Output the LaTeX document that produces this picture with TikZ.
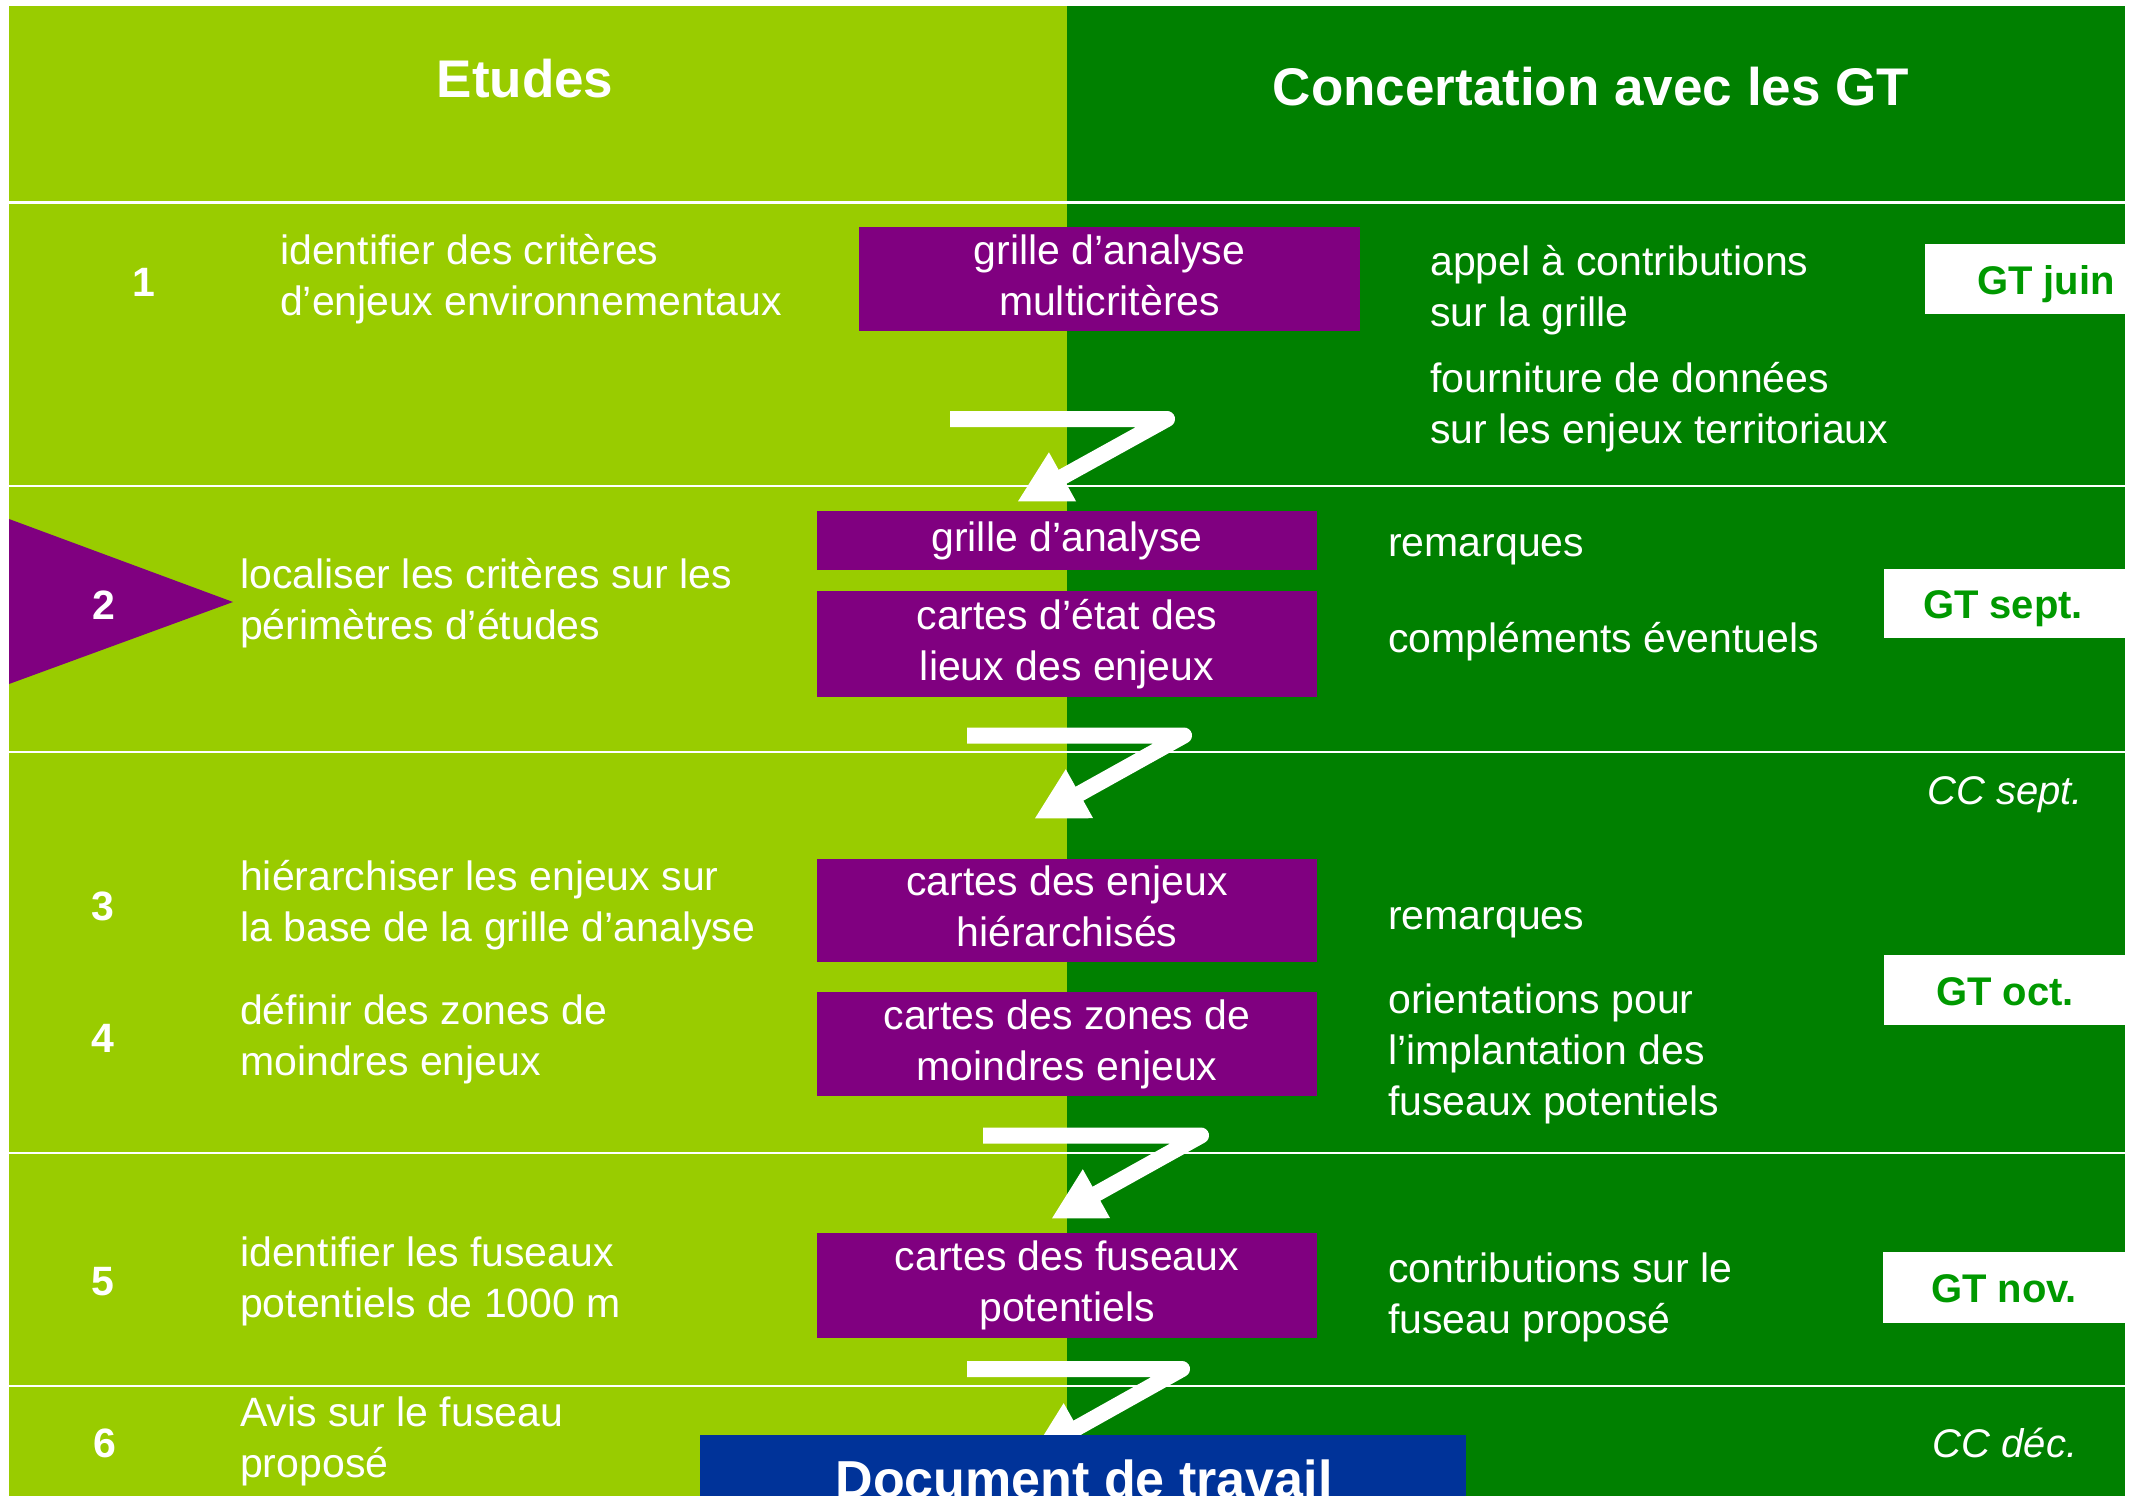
\documentclass[tikz,border=0pt]{standalone}
\usepackage{fontspec}
\setmainfont{Liberation Sans}
\usetikzlibrary{arrows.meta}
\definecolor{lightg}{HTML}{99CC00}
\definecolor{darkg}{HTML}{008000}
\definecolor{purp}{HTML}{800080}
\definecolor{docblue}{HTML}{003399}
\definecolor{gtg}{HTML}{009900}
\newcommand\sL{\rule[-0.25em]{0pt}{1.2em}}
\newcommand\bL{\rule[-0.34em]{0pt}{1.2em}}
\begin{document}
\begin{tikzpicture}[x=1pt,y=-1pt,
  body/.style={text=white,font=\fontsize{41}{51}\selectfont,inner sep=0pt,align=left,anchor=west,yshift=-4pt},
  num/.style={text=white,font=\bfseries\fontsize{41}{49}\selectfont,inner sep=0pt,text height=29pt,text depth=0pt},
  head/.style={text=white,font=\bfseries\fontsize{53}{60}\selectfont,inner sep=0pt,text height=38pt,text depth=0pt},
  pbox/.style={fill=purp,draw=none,inner sep=0pt,text=white,font=\fontsize{41}{51}\selectfont,align=center},
  gtbox/.style={fill=white,draw=none,inner sep=0pt},
  gttext/.style={text=gtg,font=\bfseries\fontsize{40}{48}\selectfont,inner sep=0pt,text height=29pt,text depth=0pt},
  cc/.style={text=white,font=\itshape\fontsize{40}{48}\selectfont,inner sep=0pt,text height=29pt,text depth=0pt},
  sepline/.style={draw=white,line width=2pt},
  flow/.style={draw=white,line width=16pt,line join=round,-{Triangle[length=52pt,width=52pt]}}
]
\useasboundingbox (0,0) rectangle (2134,1496);
\clip (0,0) rectangle (2134,1496);
\fill[white] (0,0) rectangle (2134,1496);
% backgrounds
\fill[lightg] (9,6) rectangle (1067,1500);
\fill[darkg] (1067,6) rectangle (2125,1500);
% separators
\draw[draw=white,line width=3pt] (9,202) -- (2125,202);
\draw[sepline] (9,486) -- (2125,486);
\draw[sepline] (9,752) -- (2125,752);
\draw[sepline] (9,1153) -- (2125,1153);
\draw[sepline] (9,1386) -- (2125,1386);
% header
\node[head] (hEt) at (525,78) {Etudes};
\node[head] (hCo) at (1591,87) {Concertation avec les GT};
% row 1
\node[num] (n1) at (144,282) {1};
\node[body] (l1) at (280,272) {\sL identifier des critères\\\sL d’enjeux environnementaux};
\node[pbox,minimum width=501pt,minimum height=104pt] (pb1) at (1109.5,279) {\bL grille d’analyse\\\bL multicritères};
\node[body] (r1a) at (1430,283) {\sL appel à contributions\\\sL sur la grille};
\node[body] (r1b) at (1430,400) {\sL fourniture de données\\\sL sur les enjeux territoriaux};
\node[gtbox,minimum width=200pt,minimum height=70pt] (gt1) at (2025,279) {};
\node[gttext] (gt1t) at (2046,280) {GT juin};
% row 2
\fill[purp] (9,519) -- (233,602) -- (9,684) -- cycle;
\node[num] (n2) at (104,605) {2};
\node[body] (l2) at (240,596) {\sL localiser les critères sur les\\\sL périmètres d’études};
\node[pbox,minimum width=500pt,minimum height=59pt] (pb2) at (1067,540.5) {\bL grille d’analyse};
\node[pbox,minimum width=500pt,minimum height=106pt] (pb3) at (1067,644) {\bL cartes d’état des\\\bL lieux des enjeux};
\node[body] (r2a) at (1388,538) {\sL remarques};
\node[body] (r2b) at (1388,634) {\sL compléments éventuels};
\node[gtbox,minimum width=241pt,minimum height=69pt] (gt2) at (2004.5,603.5) {};
\node[gttext] (gt2t) at (2003,604) {GT sept.};
% row 3
\node[cc] (cc1) at (2005,790) {CC sept.};
\node[num] (n3) at (103,906) {3};
\node[body] (l3) at (240,898) {\sL hiérarchiser les enjeux sur\\\sL la base de la grille d’analyse};
\node[num] (n4) at (103,1038) {4};
\node[body] (l4) at (240,1032) {\sL définir des zones de\\\sL moindres enjeux};
\node[pbox,minimum width=500pt,minimum height=103pt] (pb4) at (1067,910.5) {\bL cartes des enjeux\\\bL hiérarchisés};
\node[pbox,minimum width=500pt,minimum height=104pt] (pb5) at (1067,1044) {\bL cartes des zones de\\\bL moindres enjeux};
\node[body] (r3a) at (1388,911) {\sL remarques};
\node[body] (r3b) at (1388,1046) {\sL orientations pour\\\sL l’implantation des\\\sL fuseaux potentiels};
\node[gtbox,minimum width=241pt,minimum height=70pt] (gt3) at (2004.5,990) {};
\node[gttext] (gt3t) at (2005,991) {GT oct.};
% row 4
\node[num] (n5) at (103,1281) {5};
\node[body] (l5) at (240,1274) {\sL identifier les fuseaux\\\sL potentiels de 1000 m};
\node[pbox,minimum width=500pt,minimum height=105pt] (pb6) at (1067,1285.5) {\bL cartes des fuseaux\\\bL potentiels};
\node[body] (r4) at (1388,1290) {\sL contributions sur le\\\sL fuseau proposé};
\node[gtbox,minimum width=242pt,minimum height=71pt] (gt4) at (2004,1287.5) {};
\node[gttext] (gt4t) at (2004,1288) {GT nov.};
% row 5
\node[num] (n6) at (105,1443) {6};
\node[body] (l6) at (240,1434) {\sL Avis sur le fuseau\\\sL proposé};
\node[cc] (cc2) at (2005,1443) {CC déc.};
% arrows
\coordinate (a1s) at (950,419); \coordinate (a1c) at (1167,419); \coordinate (a1e) at (1017,502);
\draw[flow] (a1s) -- (a1c) -- (a1e);
\coordinate (a2s) at (967,735.5); \coordinate (a2c) at (1184,735.5); \coordinate (a2e) at (1034,819);
\draw[flow] (a2s) -- (a2c) -- (a2e);
\coordinate (a3s) at (983,1135.5); \coordinate (a3c) at (1201,1135.5); \coordinate (a3e) at (1051,1219);
\draw[flow] (a3s) -- (a3c) -- (a3e);
\coordinate (a4s) at (967,1369); \coordinate (a4c) at (1182,1369); \coordinate (a4e) at (1032,1453);
\draw[flow] (a4s) -- (a4c) -- (a4e);
% document box
\node[fill=docblue,draw=none,inner sep=0pt,minimum width=766pt,minimum height=100pt,anchor=north] (doc) at (1083,1435) {};
\node[anchor=base,inner sep=0pt,text=white,font=\bfseries\fontsize{52}{60}\selectfont] (doct) at (1084,1497) {Document de travail};
\end{tikzpicture}
\end{document}
